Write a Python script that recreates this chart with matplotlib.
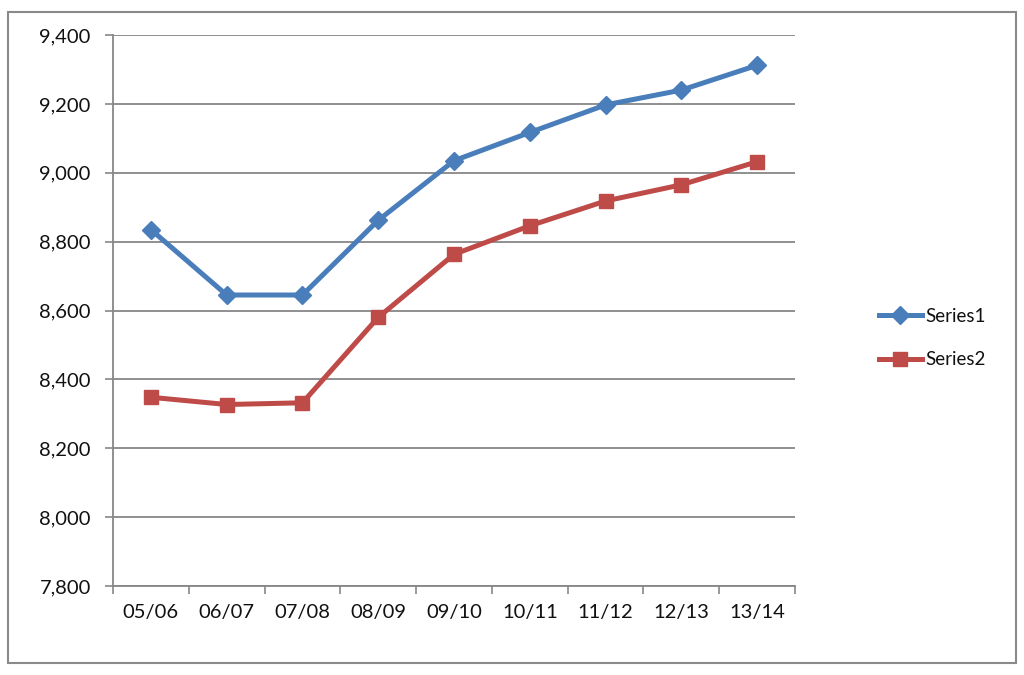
import matplotlib.pyplot as plt
from matplotlib.patches import Rectangle
import numpy as np

plt.rcParams['font.family'] = ['Lato', 'DejaVu Sans']

categories = ['05/06', '06/07', '07/08', '08/09', '09/10', '10/11', '11/12', '12/13', '13/14']
series1 = [8835, 8645, 8645, 8862, 9035, 9117, 9197, 9240, 9312]
series2 = [8348, 8327, 8332, 8580, 8763, 8846, 8918, 8965, 9032]

W, H = 1024, 675
fig = plt.figure(figsize=(W / 100, H / 100), dpi=100)
ax = fig.add_axes([113 / W, 1 - 586 / H, (795 - 113) / W, (586 - 35) / H])

x = np.arange(len(categories))
ax.plot(x, series1, color='#4A7EBB', lw=3.6, marker='D', ms=9.5, label='Series1', zorder=3)
ax.plot(x, series2, color='#BE4B48', lw=3.6, marker='s', ms=10.5, label='Series2', zorder=3)

ax.set_xlim(-0.5, len(categories) - 0.5)
ax.set_ylim(7800, 9400)
ax.set_yticks(np.arange(7800, 9401, 200))
ax.yaxis.set_major_formatter(plt.FuncFormatter(lambda v, p: f'{int(v):,}'))
ax.set_xticks(x)
ax.set_xticklabels(categories)
ax.set_xticks(np.arange(-0.5, len(categories)), minor=True)
ax.tick_params(axis='x', which='major', length=0, pad=13, labelsize=14.5, labelcolor='#111111')
ax.tick_params(axis='x', which='minor', length=6, color='#878787', width=1.2)
ax.tick_params(axis='y', length=6, color='#878787', width=1.2, pad=10, labelsize=14.5, labelcolor='#111111')
ax.grid(axis='y', color='#878787', lw=1.3)
ax.set_axisbelow(True)
for s in ['top', 'right']:
    ax.spines[s].set_visible(False)
for s in ['left', 'bottom']:
    ax.spines[s].set_color('#878787')
    ax.spines[s].set_linewidth(1.3)

leg = ax.legend(loc='center left', bbox_to_anchor=(862 / W, 1 - 338 / H), bbox_transform=fig.transFigure,
                frameon=False, fontsize=13.5, handlelength=2.3, labelspacing=1.4, handletextpad=0.2)
for t in leg.get_texts():
    t.set_color('#111111')

fig.patches.append(Rectangle((8 / W, 1 - 663 / H), 1008 / W, 651 / H, transform=fig.transFigure,
                             fill=False, edgecolor='#8a8a8a', lw=1.5))

fig.savefig('out.png', dpi=100)
